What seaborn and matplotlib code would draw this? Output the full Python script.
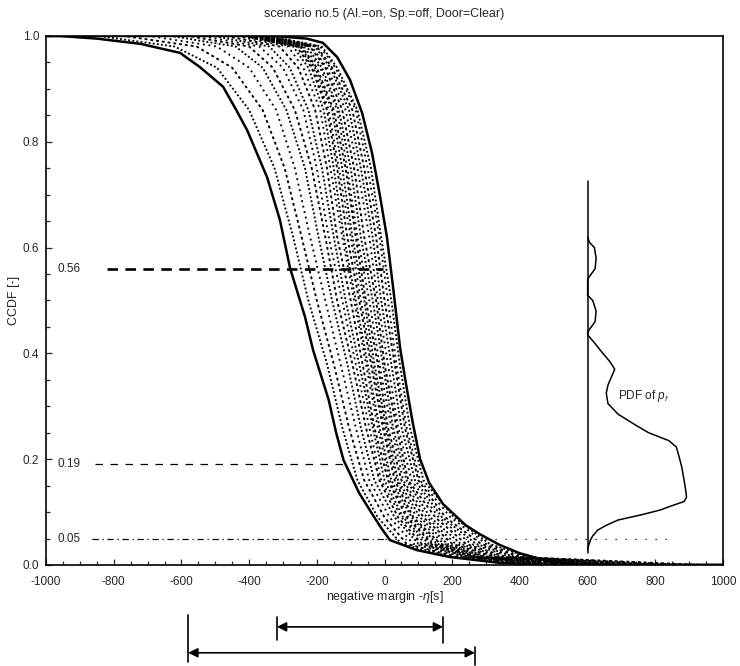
import numpy as np
import pandas as pd
import matplotlib
matplotlib.use("Agg")
import matplotlib.pyplot as plt
import seaborn as sns
from matplotlib.transforms import blended_transform_factory
from matplotlib.ticker import MultipleLocator

# CCDF levels at which every sample curve is tabulated
levels = [1.0, 0.98, 0.94, 0.86, 0.75, 0.62, 0.5, 0.38, 0.26, 0.16, 0.09, 0.04, 0.015, 0.0]

# bounding curves (bold), each with its own CCDF levels
left_bold_ccdf = [1.0, 0.995, 0.985, 0.968, 0.941, 0.904, 0.86, 0.822, 0.733,
                  0.652, 0.561, 0.469, 0.406, 0.312, 0.25, 0.198, 0.136, 0.098,
                  0.07, 0.047, 0.028, 0.015, 0.004, 0.0]
left_bold_x = [-960, -850, -720, -604, -545, -477, -438, -406, -347,
               -309, -279, -235, -211, -165, -143, -121, -75, -38,
               -10, 16, 96, 193, 341, 500]
right_bold_ccdf = [1.0, 0.995, 0.987, 0.96, 0.917, 0.854, 0.779, 0.696, 0.62,
                   0.526, 0.41, 0.34, 0.27, 0.2, 0.155, 0.115, 0.075, 0.058,
                   0.038, 0.022, 0.008, 0.002, 0.0]
right_bold_x = [-330, -230, -182, -140, -102, -66, -37, -13, 7,
                25, 46, 64, 83, 105, 132, 173, 240, 282,
                340, 400, 480, 560, 650]

# individual sample curves (dotted), x at each CCDF level
sample_x = [
    [-845, -620, -495, -400, -325, -270, -225, -170, -125, -80, -20, 50, 200, 420],
    [-770, -555, -450, -360, -295, -245, -200, -150, -105, -60, 0, 65, 215, 440],
    [-695, -495, -400, -320, -265, -220, -175, -130, -85, -45, 15, 85, 230, 460],
    [-630, -440, -360, -290, -235, -195, -155, -110, -70, -30, 30, 100, 240, 480],
    [-580, -400, -330, -265, -215, -175, -140, -95, -55, -15, 40, 110, 250, 500],
    [-540, -370, -300, -240, -200, -165, -125, -85, -45, -10, 50, 120, 260, 520],
    [-505, -340, -280, -225, -185, -150, -115, -75, -35, 0, 55, 130, 265, 540],
    [-470, -310, -255, -205, -170, -140, -100, -65, -30, 10, 65, 140, 270, 560],
    [-440, -285, -240, -190, -160, -125, -90, -55, -20, 15, 70, 145, 275, 580],
    [-420, -270, -225, -180, -150, -120, -85, -50, -15, 20, 80, 155, 285, 600],
    [-415, -260, -215, -170, -140, -110, -75, -40, -5, 30, 85, 165, 295, 620],
    [-405, -255, -210, -165, -135, -100, -70, -35, 0, 35, 95, 175, 300, 640],
    [-400, -250, -205, -155, -125, -95, -60, -30, 5, 40, 105, 185, 310, 660],
    [-395, -245, -200, -150, -115, -85, -55, -20, 10, 50, 115, 200, 325, 700],
    [-390, -240, -190, -140, -110, -80, -45, -15, 20, 55, 125, 210, 335, 740],
    [-380, -230, -185, -135, -100, -70, -35, -5, 25, 65, 135, 225, 345, 780],
    [-375, -220, -175, -125, -90, -60, -25, 0, 35, 70, 150, 240, 360, 820],
    [-370, -215, -170, -115, -80, -45, -20, 10, 40, 80, 160, 255, 375, 860],
    [-360, -205, -160, -105, -70, -35, -10, 20, 50, 90, 170, 270, 385, 900],
    [-355, -200, -155, -95, -60, -25, 0, 30, 60, 100, 180, 285, 400, 940],
    [-345, -190, -145, -85, -50, -15, 10, 35, 65, 105, 195, 300, 410, 720],
    [-340, -185, -140, -80, -40, -10, 20, 45, 75, 115, 205, 310, 425, 680],
]

# PDF of p_f, drawn sideways on a vertical baseline
pdf_base_x = 600
pdf_base_span = [0.023, 0.725]
pdf_level = [0.62, 0.61, 0.60, 0.58, 0.56, 0.545, 0.54, 0.51, 0.50, 0.48, 0.46,
             0.445, 0.44, 0.435, 0.42, 0.40, 0.385, 0.37, 0.355, 0.34, 0.325,
             0.305, 0.285, 0.265, 0.25, 0.235, 0.223, 0.205, 0.185, 0.16, 0.14,
             0.128, 0.12, 0.11, 0.104, 0.095, 0.085, 0.075, 0.066, 0.055, 0.047,
             0.035, 0.03]
pdf_density = [0, 5, 20, 25, 22, 5, 0, 0, 15, 25, 22,
               5, 0, 0, 20, 45, 65, 80, 70, 60, 55,
               60, 90, 140, 180, 240, 262, 270, 278, 285, 290,
               292, 285, 240, 215, 160, 90, 55, 30, 15, 8,
               2, 0]

# quantile markers
mark_levels = [0.56, 0.19, 0.05]
mark_labels = ["0.56", "0.19", "0.05"]
mark_start = [-820, -855, -864]
mark_end = [-5, -111, 0]
dotted_tail_end = 852

# spreads shown under the axis
range_upper = [-318, 173]
range_lower = [-580, 267]

x_ticks = [-1000, -800, -600, -400, -200, 0, 200, 400, 600, 800, 1000]
y_ticks = [0.0, 0.2, 0.4, 0.6, 0.8, 1.0]
y_tick_labels = ["0.0", "0.2", "0.4", "0.6", "0.8", "1.0"]

sns.set_style("ticks")
plt.rcParams["font.family"] = ["Liberation Sans", "DejaVu Sans"]
plt.rcParams["mathtext.fontset"] = "custom"
plt.rcParams["mathtext.rm"] = "Liberation Sans"
plt.rcParams["mathtext.it"] = "Liberation Sans:italic"

fig = plt.figure(figsize=(7.4, 6.66), dpi=100)
ax = fig.add_axes([0.0622, 0.1517, 0.9149, 0.7943])

x_lo, x_hi = -1000, 1000

# sample curves
rows = []
for i, xs in enumerate(sample_x):
    xs_full = [x_lo] + list(xs) + [x_hi]
    ys_full = [1.0] + list(levels) + [0.0]
    for x, y in zip(xs_full, ys_full):
        rows.append({"run": i, "x": x, "ccdf": y})
samples = pd.DataFrame(rows)
dash_patterns = [(0, (1, 1.2)), (0, (1.5, 1.6)), (0, (1, 2.0))]
for k, pattern in enumerate(dash_patterns):
    sub = samples[samples["run"] % 3 == k]
    sns.lineplot(data=sub, x="x", y="ccdf", units="run", estimator=None,
                 sort=False, color="black", lw=1.35, linestyle=pattern, ax=ax)

# bounding curves
for xs, ys in ((left_bold_x, left_bold_ccdf), (right_bold_x, right_bold_ccdf)):
    bold = pd.DataFrame({"x": [x_lo] + list(xs) + [x_hi],
                         "ccdf": [1.0] + list(ys) + [0.0]})
    sns.lineplot(data=bold, x="x", y="ccdf", sort=False, estimator=None,
                 color="black", lw=1.8, ax=ax)

# quantile marker lines and labels
ax.plot([mark_start[0], mark_end[0]], [mark_levels[0]] * 2, color="black",
        lw=1.9, linestyle=(0, (4, 2.8)))
ax.plot([mark_start[1], mark_end[1]], [mark_levels[1]] * 2, color="black",
        lw=0.9, linestyle=(0, (6, 6)))
ax.plot([mark_start[2], mark_end[2]], [mark_levels[2]] * 2, color="black",
        lw=0.9, linestyle=(0, (5, 3, 1, 3)))
ax.plot([mark_end[2], dotted_tail_end], [mark_levels[2]] * 2, color="black",
        lw=0.9, linestyle=(0, (1, 7)))
for lvl, lab in zip(mark_levels, mark_labels):
    ax.text(-965, lvl, lab, ha="left", va="center", fontsize=8.5)

# PDF of p_f
ax.plot([pdf_base_x, pdf_base_x], pdf_base_span, color="black", lw=1.1)
pdf = pd.DataFrame({"x": pdf_base_x + np.asarray(pdf_density, float),
                    "level": pdf_level})
sns.lineplot(data=pdf, x="x", y="level", sort=False, estimator=None,
             color="black", lw=1.1, ax=ax)
ax.text(690, 0.32, r"PDF of $p_f$", ha="left", va="center", fontsize=8.5)

# spread arrows under the axis
trans = blended_transform_factory(ax.transData, ax.transAxes)
for rng, y_arrow, bars in ((range_upper, -0.117, [(-0.098, -0.142), (-0.098, -0.147)]),
                           (range_lower, -0.166, [(-0.0945, -0.183), (-0.155, -0.189)])):
    ax.annotate("", xy=(rng[0], y_arrow), xytext=(rng[1], y_arrow),
                xycoords=trans, textcoords=trans, annotation_clip=False,
                arrowprops=dict(arrowstyle="<|-|>", color="black", lw=1.2,
                                mutation_scale=14, shrinkA=0, shrinkB=0))
    for xb, (y0, y1) in zip(rng, bars):
        ax.plot([xb, xb], [y0, y1], color="black", lw=1.2, transform=trans,
                clip_on=False)

ax.set_xlim(x_lo, x_hi)
ax.set_ylim(0.0, 1.0)
ax.set_xticks(x_ticks)
ax.set_xticklabels([str(v) for v in x_ticks])
ax.set_yticks(y_ticks)
ax.set_yticklabels(y_tick_labels)
ax.xaxis.set_minor_locator(MultipleLocator(50))
ax.yaxis.set_minor_locator(MultipleLocator(0.05))
ax.tick_params(which="both", direction="in", labelsize=8.5, width=0.9,
               top=False, right=False)
ax.tick_params(which="major", length=4)
ax.tick_params(which="minor", length=3)
ax.tick_params(axis="x", pad=8)
ax.tick_params(axis="y", pad=5)
for side in ("left", "bottom", "right", "top"):
    ax.spines[side].set_visible(True)
    ax.spines[side].set_linewidth(1.2)
    ax.spines[side].set_color("black")

ax.set_xlabel(r"negative margin -$\eta$[s]", fontsize=9, labelpad=1)
ax.set_ylabel("CCDF [-]", fontsize=9, labelpad=2)
ax.set_title("scenario no.5 (Al.=on, Sp.=off, Door=Clear)", fontsize=9, pad=14)

fig.savefig("out.png", dpi=100)
